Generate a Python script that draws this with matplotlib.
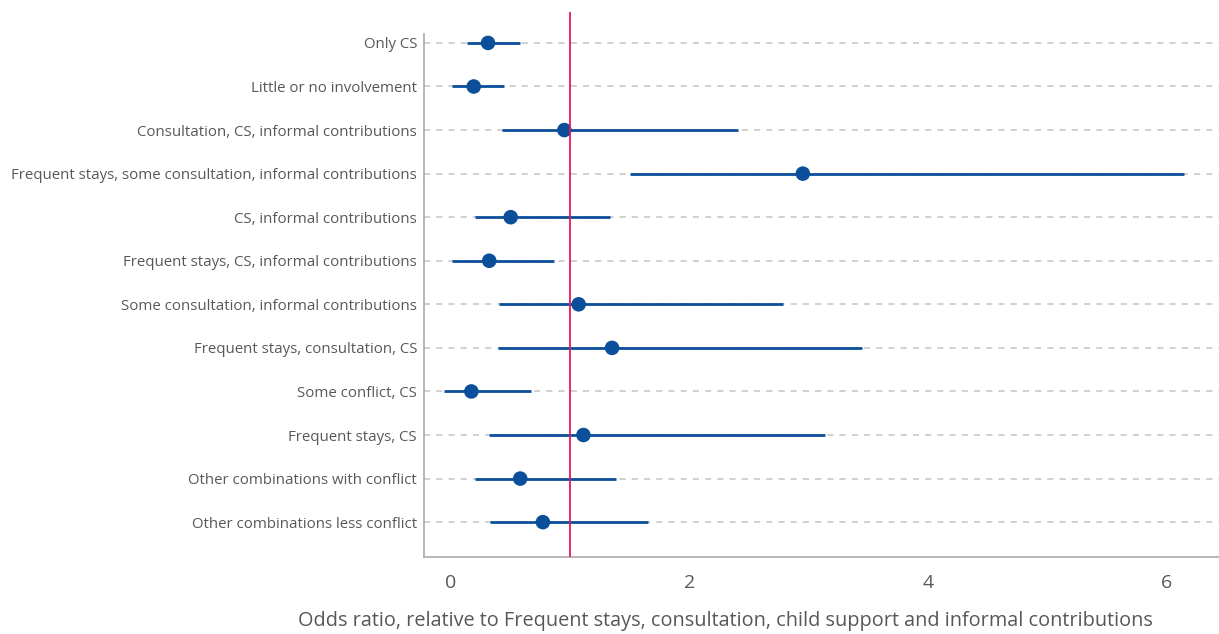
import matplotlib
matplotlib.use("Agg")
import matplotlib.pyplot as plt

plt.rcParams['font.family'] = ['Open Sans', 'DejaVu Sans']

categories = [
    "Only CS",
    "Little or no involvement",
    "Consultation, CS, informal contributions",
    "Frequent stays, some consultation, informal contributions",
    "CS, informal contributions",
    "Frequent stays, CS, informal contributions",
    "Some consultation, informal contributions",
    "Frequent stays, consultation, CS",
    "Some conflict, CS",
    "Frequent stays, CS",
    "Other combinations with conflict",
    "Other combinations less conflict",
]
odds_ratio = [0.31, 0.19, 0.95, 2.95, 0.50, 0.32, 1.07, 1.35, 0.17, 1.11, 0.58, 0.77]
ci_low = [0.13, 0.01, 0.43, 1.50, 0.20, 0.01, 0.40, 0.39, -0.06, 0.32, 0.20, 0.33]
ci_high = [0.58, 0.44, 2.41, 6.15, 1.33, 0.86, 2.78, 3.45, 0.67, 3.14, 1.38, 1.65]
xticks = [0, 2, 4, 6]
reference = 1.0

blue = "#0b4f9a"
text_col = "#585858"

fig = plt.figure(figsize=(12.19, 6.34), dpi=100)
ax = fig.add_axes([424 / 1219, 77 / 634, 795 / 1219, 545 / 634])

n = len(categories)
ypos = list(range(n))

for y in ypos:
    ax.axhline(y, color="#c4c4c4", lw=1.1, ls=(0, (4, 4)), zorder=0)

ax.hlines(ypos, ci_low, ci_high, color=blue, lw=2.0, zorder=2)
ax.scatter(odds_ratio, ypos, s=110, color=blue, zorder=3, edgecolors="none")
ax.axvline(reference, color="#e8175d", lw=1.3, zorder=4)

ax.set_xlim(-0.227, 6.44)
ax.set_ylim(n - 1 + 0.80, -0.71)
ax.set_yticks(ypos)
ax.set_yticklabels(categories, fontsize=10.8, color=text_col)
ax.set_xticks(xticks)
ax.set_xticklabels([str(t) for t in xticks], fontsize=14, color=text_col)
ax.tick_params(axis="y", length=0, pad=5)
ax.tick_params(axis="x", length=0, pad=12)

ax.set_xlabel("Odds ratio, relative to Frequent stays, consultation, child support and informal contributions",
              fontsize=14.3, color=text_col)
ax.xaxis.set_label_coords((725 - 424) / 795, -(621 - 557) / 545)
ax.xaxis.label.set_va("center")

for s in ["top", "right"]:
    ax.spines[s].set_visible(False)
for s in ["left", "bottom"]:
    ax.spines[s].set_color("#aaaaaa")
    ax.spines[s].set_linewidth(1.2)
ax.spines["left"].set_bounds(n - 1 + 0.80, -0.21)

fig.savefig("out.png", dpi=100)
